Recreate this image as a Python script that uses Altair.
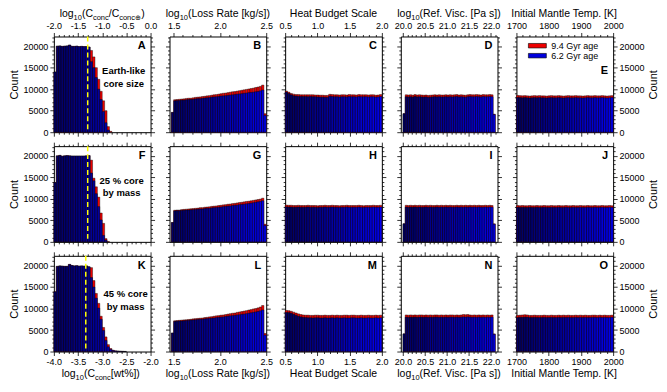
import math
import altair as alt
import pandas as pd

FONT = "Liberation Sans"
W, H = 97, 96
YMAX = 22250
RED = "#ee0000"
BLUE_RANGE = ["#000060", "#0000f0"]

# ---------------- data (counts) ----------------
# column 1: log10 C_conc histograms, bins of 0.05
A_blue = [14000, 20000, 20050, 19950, 20000, 20050, 20250, 19950, 19950, 20000, 19900, 19950, 19900, 19900,
          19800, 16400, 15000, 12700, 10000, 7600, 4800, 2200, 500]
A_red = [14000, 20000, 20050, 19950, 20000, 20050, 20250, 19950, 19950, 20000, 19900, 19950, 19900, 19900,
         19800, 19000, 17500, 15000, 12300, 9500, 7300, 5000, 1300, 200]
F_blue = [13800, 20000, 20100, 19900, 20000, 20050, 20000, 19950, 19950, 19950, 19950, 19950, 19950, 20000,
          20050, 16000, 14200, 11200, 8200, 5100, 1500, 400]
F_red = [13800, 20000, 20100, 19900, 20000, 20050, 20000, 19950, 19950, 19950, 19950, 19950, 19950, 20000,
         20050, 19000, 14800, 12800, 10400, 6700, 4300, 750, 100]
K_blue = [13900, 19800, 19900, 19850, 19800, 19800, 20250, 20000, 19900, 19950, 19850, 19900, 19850, 19900,
          19700, 17200, 15000, 12400, 10100, 7500, 4900, 2600, 1100, 500, 250, 150, 100, 60, 40, 20]
K_red = [13900, 19800, 19900, 19850, 19800, 19800, 20250, 20000, 19900, 19950, 19850, 19900, 19850, 19900,
         19700, 19500, 16500, 13500, 11200, 8200, 5600, 3400, 1600, 700, 300, 150, 100, 60, 40, 20]

# column 2: log10 loss rate, bins of 0.025 (half-filled end bins)
B_blue = [4600, 7300, 7350, 7400, 7450, 7450, 7550, 7600, 7600, 7650, 7750, 7800, 7800, 7900, 7950, 8000, 8050,
          8150, 8200, 8250, 8300, 8400, 8450, 8500, 8550, 8650, 8700, 8750, 8850, 8900, 8950, 9050, 9100,
          9200, 9250, 9300, 9400, 9450, 9600, 9800, 3900]
B_red = [4600, 7550, 7600, 7650, 7700, 7750, 7850, 7900, 7900, 8000, 8100, 8150, 8200, 8300, 8350, 8450, 8500,
         8600, 8700, 8750, 8850, 8950, 9050, 9100, 9200, 9300, 9400, 9450, 9550, 9650, 9750, 9850, 9950,
         10050, 10150, 10250, 10400, 10500, 10650, 10950, 4300]
G_blue = [4500, 7200, 7250, 7250, 7300, 7350, 7400, 7400, 7450, 7500, 7550, 7600, 7650, 7650, 7750, 7800, 7800,
          7900, 7950, 8000, 8050, 8100, 8200, 8250, 8300, 8350, 8450, 8500, 8550, 8650, 8700, 8750, 8850,
          8900, 9000, 9100, 9200, 9300, 9400, 9550, 3800]
G_red = [4500, 7350, 7400, 7400, 7500, 7550, 7600, 7650, 7700, 7750, 7800, 7850, 7950, 7950, 8050, 8100, 8150,
         8250, 8300, 8350, 8450, 8500, 8600, 8650, 8750, 8800, 8900, 8950, 9050, 9150, 9200, 9300, 9400,
         9450, 9550, 9650, 9750, 9850, 9950, 10150, 4100]
L_blue = [4300, 7000, 7050, 7100, 7100, 7150, 7200, 7250, 7300, 7350, 7400, 7450, 7500, 7500, 7600, 7650, 7700,
          7750, 7800, 7900, 7950, 8000, 8050, 8150, 8200, 8300, 8350, 8400, 8500, 8550, 8650, 8700, 8800,
          8900, 9000, 9100, 9200, 9300, 9450, 9650, 3800]
L_red = [4300, 7150, 7200, 7250, 7300, 7350, 7400, 7450, 7500, 7600, 7650, 7700, 7750, 7800, 7900, 7950, 8050,
         8100, 8200, 8300, 8350, 8450, 8500, 8600, 8700, 8800, 8900, 8950, 9100, 9200, 9300, 9400, 9500,
         9650, 9750, 9900, 10000, 10150, 10350, 10700, 4200]

# column 3: heat budget scale, bins of 0.0375
C_blue = [9350, 9000, 8700, 8500, 8400, 8350, 8300, 8300, 8300, 8250, 8300, 8250, 8250, 8200, 8150, 8150, 8100,
          8100, 8350, 8300, 8250, 8250, 8200, 8250, 8250, 8200, 8300, 8250, 8250, 8200, 8300, 8250, 8250,
          8250, 8200, 8250, 8250, 8150, 8200, 8300]
C_red = [9550, 9300, 9000, 8850, 8750, 8750, 8700, 8700, 8700, 8700, 8700, 8700, 8650, 8650, 8600, 8600, 8550,
         8550, 8800, 8750, 8700, 8700, 8650, 8700, 8700, 8650, 8750, 8700, 8700, 8650, 8750, 8700, 8700,
         8700, 8650, 8700, 8700, 8600, 8650, 8750]
H_blue = [8150, 8100, 8100, 8050, 8050, 8100, 8050, 8050, 8050, 8100, 8050, 8050, 8050, 8000, 8050, 8050, 8100,
          8050, 8050, 8100, 8050, 8050, 8000, 8050, 8050, 8100, 8050, 8050, 8050, 8050, 8100, 8050, 8000,
          8050, 8050, 8050, 8100, 8050, 8050, 8100]
H_red = [8550, 8500, 8500, 8450, 8450, 8500, 8450, 8450, 8450, 8500, 8450, 8450, 8450, 8400, 8450, 8450, 8500,
         8450, 8450, 8500, 8450, 8450, 8400, 8450, 8450, 8500, 8450, 8450, 8450, 8450, 8500, 8450, 8400,
         8450, 8450, 8450, 8500, 8450, 8450, 8500]
M_blue = [9100, 9050, 8900, 8650, 8400, 8200, 8050, 7950, 7900, 7850, 7850, 7800, 7850, 7850, 7800, 7800, 7850,
          7800, 7800, 7850, 7800, 7850, 7800, 7800, 7850, 7800, 7800, 7850, 7850, 7800, 7800, 7850, 7800,
          7800, 7850, 7800, 7800, 7850, 7800, 7850]
M_red = [9550, 9500, 9350, 9150, 8950, 8750, 8600, 8500, 8450, 8450, 8400, 8400, 8450, 8450, 8400, 8400, 8450,
         8400, 8400, 8450, 8400, 8450, 8400, 8400, 8450, 8450, 8400, 8450, 8450, 8400, 8400, 8450, 8400,
         8400, 8450, 8400, 8400, 8450, 8400, 8450]

# column 4: log10 reference viscosity, bins of 0.05 (half-filled end bins)
D_blue = [4300, 8250, 8200, 8250, 8150, 8300, 8200, 8250, 8200, 8150, 8200, 8100, 8150, 8200, 8250, 8200, 8250,
          8200, 8200, 8250, 8200, 8250, 8200, 8250, 8300, 8200, 8250, 8200, 8150, 8250, 8300, 8250, 8250,
          8300, 8250, 8200, 8300, 8250, 8250, 8300, 8250, 4100]
D_red = [4300, 8700, 8650, 8700, 8600, 8750, 8650, 8700, 8650, 8600, 8650, 8550, 8600, 8650, 8700, 8650, 8700,
         8650, 8650, 8700, 8650, 8700, 8650, 8700, 8750, 8650, 8700, 8650, 8600, 8700, 8750, 8700, 8700,
         8750, 8700, 8650, 8750, 8700, 8700, 8750, 8700, 4200]
I_blue = [4200, 8100, 8050, 8100, 8050, 8100, 8050, 8100, 8050, 8050, 8100, 8050, 8100, 8050, 8050, 8100, 8050,
          8100, 8050, 8100, 8050, 8100, 8050, 8050, 8100, 8050, 8100, 8050, 8100, 8050, 8100, 8050, 8100,
          8050, 8100, 8050, 8050, 8100, 8050, 8100, 8050, 4100]
I_red = [4200, 8500, 8450, 8500, 8450, 8500, 8450, 8500, 8450, 8450, 8500, 8450, 8500, 8450, 8450, 8500, 8450,
         8500, 8450, 8500, 8450, 8500, 8450, 8450, 8500, 8450, 8500, 8450, 8500, 8450, 8500, 8450, 8500,
         8450, 8500, 8450, 8450, 8500, 8450, 8500, 8450, 4200]
N_blue = [4100, 8000, 7950, 8000, 7950, 8000, 7950, 8000, 8000, 7950, 8000, 7950, 8000, 7950, 8000, 8000, 7950,
          8000, 7950, 8000, 7950, 8000, 8000, 7950, 8000, 7950, 8000, 8050, 8000, 8050, 8000, 7950, 8000,
          7950, 8000, 7950, 8000, 7950, 8000, 7950, 8000, 4000]
N_red = [4100, 8500, 8450, 8500, 8450, 8500, 8450, 8500, 8500, 8450, 8500, 8450, 8500, 8450, 8500, 8500, 8450,
         8500, 8450, 8500, 8450, 8500, 8500, 8450, 8500, 8450, 8500, 8600, 8550, 8600, 8500, 8450, 8500,
         8450, 8500, 8450, 8500, 8450, 8500, 8450, 8500, 4100]

# column 5: initial mantle temperature, bins of 7.5 K
E_blue = [8100, 8050, 8000, 8050, 8000, 7950, 8000, 8050, 8000, 8050, 8000, 8000, 7950, 8000, 8050, 8000, 8000,
          8050, 8000, 7950, 8000, 8050, 8000, 8000, 8050, 8000, 8000, 7950, 8000, 8050, 8000, 8000, 8050,
          8000, 8000, 8050, 8000, 7950, 8000, 8050]
E_red = [8550, 8500, 8450, 8500, 8450, 8400, 8450, 8500, 8450, 8500, 8450, 8450, 8400, 8450, 8500, 8450, 8450,
         8500, 8450, 8400, 8450, 8500, 8450, 8450, 8500, 8450, 8450, 8400, 8450, 8500, 8450, 8450, 8500,
         8450, 8450, 8500, 8450, 8400, 8450, 8500]
J_blue = [8050, 8000, 8050, 8000, 8000, 8050, 8000, 8000, 8050, 8000, 8000, 8050, 8000, 8000, 8050, 8000, 8000,
          8050, 8000, 8000, 8050, 8000, 8000, 8050, 8000, 8000, 8050, 8000, 8000, 8050, 8000, 8000, 8050,
          8000, 8000, 8050, 8000, 8000, 8050, 8000]
J_red = [8450, 8400, 8450, 8400, 8400, 8450, 8400, 8400, 8450, 8400, 8400, 8450, 8400, 8400, 8450, 8400, 8400,
         8450, 8400, 8400, 8450, 8400, 8400, 8450, 8400, 8400, 8450, 8400, 8400, 8450, 8400, 8400, 8450,
         8400, 8400, 8450, 8400, 8400, 8450, 8400]
O_blue = [7900, 7950, 7950, 8000, 8000, 7900, 7900, 7950, 7900, 7900, 7900, 7950, 7900, 7900, 7950, 7900, 7900,
          7950, 7900, 7950, 7900, 7950, 7900, 7900, 7950, 7900, 7950, 7900, 7950, 7900, 7900, 7950, 7950,
          7900, 7950, 7900, 7950, 7900, 7900, 7950]
O_red = [8400, 8450, 8500, 8550, 8500, 8400, 8400, 8450, 8400, 8400, 8400, 8450, 8400, 8400, 8450, 8400, 8400,
         8450, 8400, 8450, 8400, 8450, 8400, 8400, 8450, 8400, 8450, 8400, 8450, 8400, 8400, 8450, 8450,
         8400, 8450, 8400, 8450, 8400, 8400, 8450]

LETTERS = [["A", "B", "C", "D", "E"], ["F", "G", "H", "I", "J"], ["K", "L", "M", "N", "O"]]
SERIES = {
    "A": (A_blue, A_red), "B": (B_blue, B_red), "C": (C_blue, C_red), "D": (D_blue, D_red), "E": (E_blue, E_red),
    "F": (F_blue, F_red), "G": (G_blue, G_red), "H": (H_blue, H_red), "I": (I_blue, I_red), "J": (J_blue, J_red),
    "K": (K_blue, K_red), "L": (L_blue, L_red), "M": (M_blue, M_red), "N": (N_blue, N_red), "O": (O_blue, O_red),
}
# bin layout per column: (first bin start, bin width)
BIN_START = [None, 1.475, 0.5, 20.0, 1700]
BIN_WIDTH = [0.05, 0.025, 0.0375, 0.05, 7.5]
# axis domains and ticks
DOMAINS = [(-2.0, 0.0), (1.455, 2.5), (0.5, 2.0), (19.95, 22.15), (1700, 2000)]
DOMAIN_K = (-4.0, -2.0)
MAJOR = [0.5, 0.5, 0.5, 0.5, 100]
MINOR = [0.1, 0.1, 0.1, 0.1, 20]
FMT = [".1f", ".1f", ".1f", ".1f", "d"]
Y_TICKS = list(range(0, 22001, 1000))
Y_MAJOR = 5000

# marker lines and annotations in column 1
MARKERS = {"A": -1.30, "F": -1.30, "K": -3.34}
NOTES = {"A": ["Earth-like", "core size"], "F": ["25 % core", "by mass"], "K": ["45 % core", "by mass"]}
NOTE_POS = {"A": (70, 35, 48), "F": (68, 35, 47), "K": (72, 38, 51)}
LEGEND_LABELS = ["9.4 Gyr age", "6.2 Gyr age"]
LEGEND_COLORS = [RED, "#0000dc"]

TOP_TITLES = [
    [("log", 0), ("10", 1), ("(C", 0), ("conc", 1), ("/C", 0), ("conc\u2295", 1), (")", 0)],
    [("log", 0), ("10", 1), ("(Loss Rate [kg/s])", 0)],
    [("Heat Budget Scale", 0)],
    [("log", 0), ("10", 1), ("(Ref. Visc. [Pa s])", 0)],
    [("Initial Mantle Temp. [K]", 0)],
]
BOTTOM_TITLES = [
    [("log", 0), ("10", 1), ("(C", 0), ("conc", 1), (" [wt%])", 0)],
    TOP_TITLES[1], TOP_TITLES[2], TOP_TITLES[3], TOP_TITLES[4],
]

# approximate Arial/Liberation Sans advance widths (per 1000 em)
CW = {' ': 278, '(': 333, ')': 333, '/': 278, '[': 278, ']': 278, '.': 278, '%': 889, '\u2295': 838,
      'l': 222, 'o': 556, 'g': 556, 'C': 722, 'c': 500, 'n': 556, 'L': 556, 's': 500, 'R': 722, 'a': 556,
      't': 278, 'e': 556, 'k': 500, 'V': 667, 'i': 222, 'P': 667, 'w': 722, 'f': 278, 'H': 722, 'B': 667,
      'u': 556, 'd': 556, 'S': 667, 'I': 278, 'M': 833, 'T': 611, 'm': 833, 'p': 556, 'K': 667, 'r': 333}


def tw(s, fs):
    return sum(CW.get(ch, 556) for ch in s) * fs / 1000.0


ONE = pd.DataFrame({"a": [0]})


def tick_values(d0, d1, step):
    k0 = math.ceil(d0 / step - 1e-9)
    k1 = math.floor(d1 / step + 1e-9)
    return [round(k * step, 6) for k in range(k0, k1 + 1)]


def is_major(major):
    return f"abs(datum.value/{major} - round(datum.value/{major})) < 0.001"


def make_axis(orient, values, major, fmt, labels, title=None, extra=None):
    test = is_major(major)
    kw = dict(
        orient=orient, values=values, labels=labels, domain=False, grid=False, ticks=True,
        tickColor="black", tickWidth=0.8,
        tickSize={"condition": {"test": test, "value": 4}, "value": 2},
        labelExpr=f"{test} ? replace(format(datum.value, '{fmt}'), '\u2212', '-') : ''",
        labelFont=FONT, labelFontSize=9, labelColor="black", labelPadding=2,
        labelFlush=False, labelOverlap=False,
    )
    if title:
        kw.update(title=title, titleFont=FONT, titleFontSize=11, titleFontWeight="normal",
                  titleColor="black", titlePadding=3)
    else:
        kw.update(title=None)
    if extra:
        kw.update(extra)
    return alt.Axis(**kw)


def title_layers(segs, ybase):
    fs, fss = 10.5, 7.5
    widths = [tw(s, fss if sub else fs) for s, sub in segs]
    x = W / 2 - sum(widths) / 2
    out = []
    for (s, sub), w in zip(segs, widths):
        out.append(
            alt.Chart(ONE).mark_text(text=s, align="left", baseline="alphabetic", font=FONT,
                                     fontSize=fss if sub else fs, color="black")
            .encode(x=alt.value(x), y=alt.value(ybase + (2.5 if sub else 0)))
        )
        x += w
    return out


def make_panel(r, c):
    letter = LETTERS[r][c]
    blue, red = SERIES[letter]
    d0, d1 = DOMAIN_K if (c == 0 and r == 2) else DOMAINS[c]
    start = d0 if c == 0 else BIN_START[c]
    width = BIN_WIDTH[c]
    n = max(len(blue), len(red))
    rows = []
    for i in range(n):
        lo = start + i * width
        hi = lo + width
        rows.append(dict(lo=lo, hi=hi,
                         nb=blue[i] if i < len(blue) else 0,
                         nr=red[i] if i < len(red) else 0,
                         pos=((lo + hi) / 2 - d0) / (d1 - d0), z=0))
    df = pd.DataFrame(rows)

    xs = alt.Scale(domain=[d0, d1], nice=False, zero=False)
    ys = alt.Scale(domain=[0, YMAX], nice=False, zero=False)
    xv = tick_values(d0, d1, MINOR[c])

    ax_bottom = make_axis("bottom", xv, MAJOR[c], FMT[c], labels=(r == 2))
    ax_top = make_axis("top", xv, MAJOR[c], FMT[c], labels=(r == 0))
    ax_left = make_axis("left", Y_TICKS, Y_MAJOR, "d", labels=(c == 0),
                        title="Count" if c == 0 else None)
    ax_right = make_axis("right", Y_TICKS, Y_MAJOR, "d", labels=(c == 4),
                         title="Count" if c == 4 else None,
                         extra={"titleAngle": 270, "titleBaseline": "top"} if c == 4 else None)

    base = alt.Chart(df)
    red_l = base.transform_filter("datum.nr > 0").mark_rect(
        fill=RED, stroke="black", strokeWidth=0.4).encode(
        x=alt.X("lo:Q", scale=xs, axis=ax_bottom), x2="hi:Q",
        y=alt.Y("nr:Q", scale=ys, axis=ax_left), y2="z:Q")
    blue_l = base.transform_filter("datum.nb > 0").mark_rect(
        stroke="black", strokeWidth=0.4).encode(
        x=alt.X("lo:Q", scale=xs, axis=ax_top), x2="hi:Q",
        y=alt.Y("nb:Q", scale=ys, axis=ax_right), y2="z:Q",
        fill=alt.Fill("pos:Q", scale=alt.Scale(domain=[0, 1], range=BLUE_RANGE), legend=None))
    layers = [red_l, blue_l]

    if letter in MARKERS:
        mdf = pd.DataFrame({"v": [MARKERS[letter]]})
        layers.append(alt.Chart(mdf).mark_rule(color="#ffff00", strokeDash=[5, 3], strokeWidth=1.5).encode(
            x=alt.X("v:Q", scale=xs, axis=None), y=alt.value(0), y2=alt.value(H)))
    if letter in NOTES:
        nx, ny1, ny2 = NOTE_POS[letter]
        for txt, yy in zip(NOTES[letter], (ny1, ny2)):
            layers.append(alt.Chart(ONE).mark_text(text=txt, font=FONT, fontSize=9.5, fontWeight="bold",
                                                   align="center", baseline="middle", color="black")
                          .encode(x=alt.value(nx), y=alt.value(yy)))

    ly = 35 if letter == "E" else 10
    layers.append(alt.Chart(ONE).mark_text(text=letter, font=FONT, fontSize=11, fontWeight="bold",
                                           align="right", baseline="middle", color="black")
                  .encode(x=alt.value(W - 5), y=alt.value(ly)))

    if letter == "E":
        for k, (lab, col) in enumerate(zip(LEGEND_LABELS, LEGEND_COLORS)):
            y0 = 7 + k * 10
            layers.append(alt.Chart(ONE).mark_rect(fill=col, stroke="black", strokeWidth=0.6).encode(
                x=alt.value(12), x2=alt.value(30), y=alt.value(y0), y2=alt.value(y0 + 4.5)))
            layers.append(alt.Chart(ONE).mark_text(text=lab, font=FONT, fontSize=9, align="left",
                                                   baseline="middle", color="black")
                          .encode(x=alt.value(35), y=alt.value(y0 + 2.5)))

    if r == 0:
        layers += title_layers(TOP_TITLES[c], -19.5)
    if r == 2:
        layers += title_layers(BOTTOM_TITLES[c], H + 26)

    return alt.layer(*layers).resolve_axis(x="independent", y="independent").properties(width=W, height=H)


panels = [make_panel(r, c) for r in range(3) for c in range(5)]

chart = alt.ConcatChart(
    concat=panels, columns=5, spacing={"row": 14, "column": 19}, bounds="flush",
    padding={"left": 0, "top": 0, "right": 0, "bottom": 0},
).configure_view(stroke="black", strokeWidth=1)

chart.save("out.html", embed_options={"renderer": "svg", "actions": False})
